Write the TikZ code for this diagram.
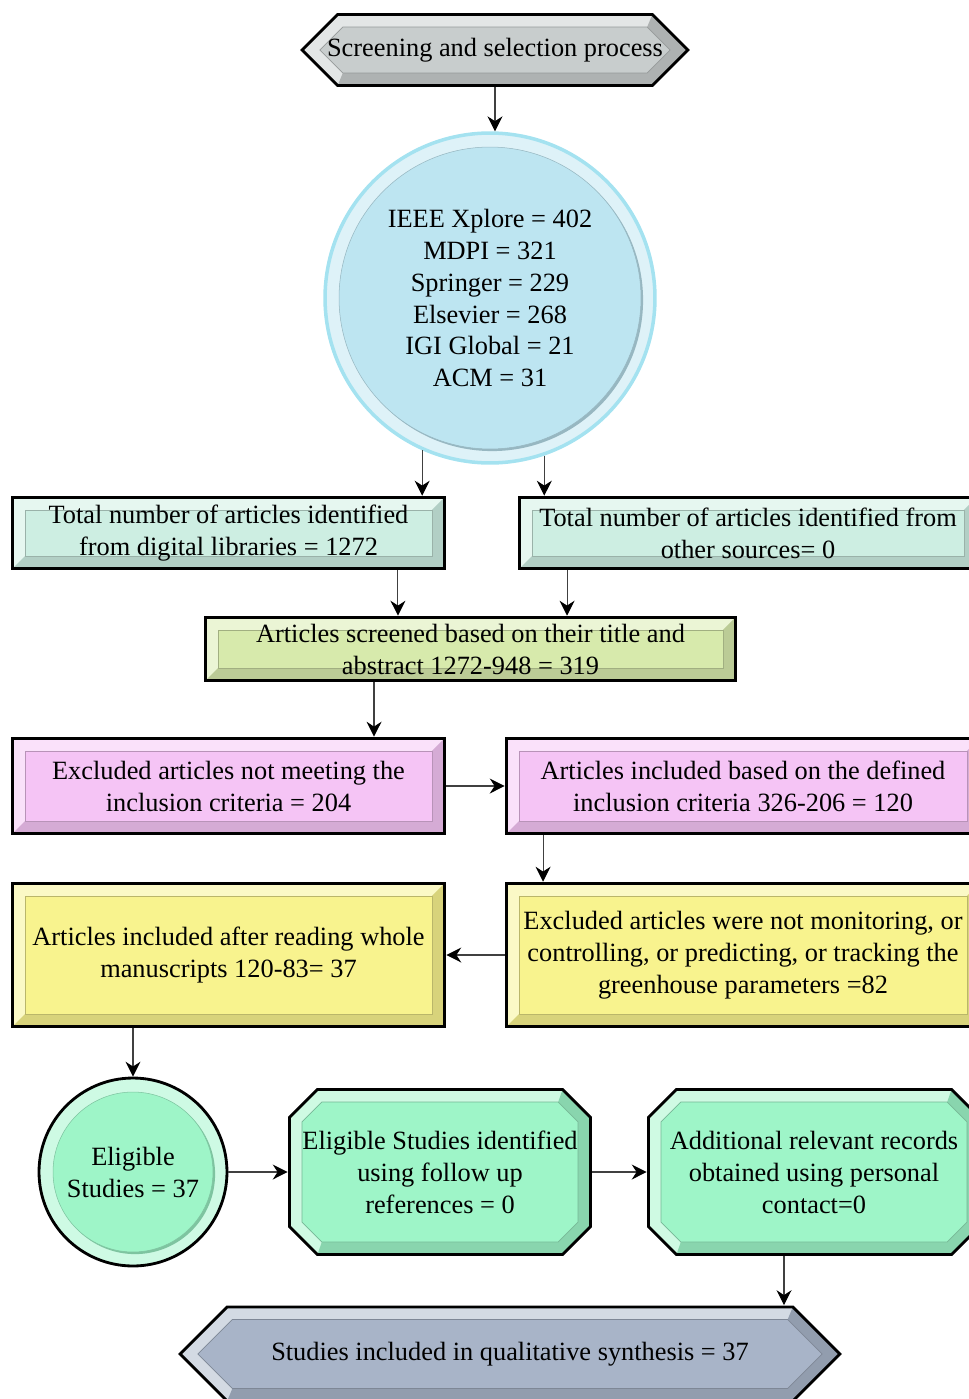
\documentclass[tikz,border=0pt]{standalone}
\usepackage{fontspec}
\setmainfont{Liberation Serif}
\usetikzlibrary{arrows.meta,calc}

\definecolor{hexgray}{HTML}{C8CDCD}
\definecolor{dbblue}{HTML}{BDE5F1}
\definecolor{dbedge}{HTML}{A4E2F0}
\definecolor{idmint}{HTML}{CDEEE2}
\definecolor{scrlime}{HTML}{D7EAAC}
\definecolor{crpink}{HTML}{F5C4F5}
\definecolor{fulltext}{HTML}{F8F38E}
\definecolor{eligmint}{HTML}{9EF5C8}
\definecolor{synslate}{HTML}{A8B4C8}

\newcommand{\bev}{0.28cm}
% octagon (or plain box when chamfer is 0) inside the node box
\newcommand{\octpath}[2]{%
  let \p1=(path picture bounding box.south west), \p2=(path picture bounding box.north east),
      \n1={\x1+#1}, \n2={\x2-#1}, \n3={\y1+#1}, \n4={\y2-#1}, \n5={max(0pt,#2)}
  in ({\n1+\n5},\n3) -- ({\n2-\n5},\n3) -- (\n2,{\n3+\n5}) -- (\n2,{\n4-\n5})
     -- ({\n2-\n5},\n4) -- ({\n1+\n5},\n4) -- (\n1,{\n4-\n5}) -- (\n1,{\n3+\n5}) -- cycle}
\newcommand{\octlow}[4]{%
  let \p1=(path picture bounding box.south west), \p2=(path picture bounding box.north east),
      \n1={\x1+#1}, \n2={\x2-#1}, \n3={\y1+#1}, \n4={\y2-#1}, \n5={max(0pt,#2)},
      \n6={\x1+#3}, \n7={\x2-#3}, \n8={\y1+#3}, \n9={\y2-#3}, \n{ic}={max(0pt,#4)}
  in ({\n1+\n5},\n3) -- ({\n2-\n5},\n3) -- (\n2,{\n3+\n5}) -- (\n2,{\n4-\n5}) -- ({\n2-\n5},\n4)
     -- ({\n7-\n{ic}},\n9) -- (\n7,{\n9-\n{ic}}) -- (\n7,{\n8+\n{ic}}) -- ({\n7-\n{ic}},\n8)
     -- ({\n6+\n{ic}},\n8) -- cycle}
% long hexagon with 45 degree points
\newcommand{\hexpath}[1]{%
  let \p1=(path picture bounding box.south west), \p2=(path picture bounding box.north east),
      \n1={(\y2-\y1)/2-#1}, \n2={(\y1+\y2)/2}, \n3={\x1+1.414*#1}, \n4={\x2-1.414*#1}
  in (\n3,\n2) -- ({\n3+\n1},{\n2+\n1}) -- ({\n4-\n1},{\n2+\n1}) -- (\n4,\n2)
     -- ({\n4-\n1},{\n2-\n1}) -- ({\n3+\n1},{\n2-\n1}) -- cycle}
\newcommand{\hexlow}[2]{%
  let \p1=(path picture bounding box.south west), \p2=(path picture bounding box.north east),
      \n1={(\y2-\y1)/2-#1}, \n2={(\y1+\y2)/2}, \n3={\x1+1.414*#1}, \n4={\x2-1.414*#1},
      \n5={(\y2-\y1)/2-#2}, \n6={\x1+1.414*#2}, \n7={\x2-1.414*#2}
  in ({\n3+\n1},{\n2-\n1}) -- ({\n4-\n1},{\n2-\n1}) -- (\n4,\n2) -- ({\n4-\n1},{\n2+\n1})
     -- ({\n7-\n5},{\n2+\n5}) -- (\n7,\n2) -- ({\n7-\n5},{\n2-\n5}) -- ({\n6+\n5},{\n2-\n5}) -- cycle}

\tikzset{
  every node/.append style={font=\fontsize{15}{18.2}\selectfont, align=center},
  arr/.style={-{Stealth[length=8.5pt,width=8.5pt,black]}, draw=black!75, line width=0.6pt},
  bevelbox/.style 2 args={rectangle, inner sep=0pt, path picture={
      \fill[#1!50!white] \octpath{0.8pt}{#2};
      \fill[#1!87!black] \octlow{0.8pt}{#2}{\bev}{#2-0.586*\bev};
      \filldraw[fill=#1, draw=#1!75!black, line width=0.4pt] \octpath{\bev}{#2-0.586*\bev};
      \draw[line width=1.6pt] \octpath{0.8pt}{#2};
    }},
  hexbox/.style={rectangle, inner sep=0pt, path picture={
      \fill[#1!50!white] \hexpath{0.8pt};
      \fill[#1!87!black] \hexlow{0.8pt}{\bev};
      \filldraw[fill=#1, draw=#1!75!black, line width=0.4pt] \hexpath{\bev};
      \draw[line width=1.6pt] \hexpath{0.8pt};
    }},
  bevelcirc/.style 2 args={circle, inner sep=0pt, draw=#2, fill=#1!50!white, path picture={
      \fill[#1!80!black] let \p1=(path picture bounding box.west), \p2=(path picture bounding box.east),
        \n1={(\x2-\x1)/2-\bev} in ([shift={(1.2pt,-1.2pt)}]path picture bounding box.center) circle[radius=\n1];
      \filldraw[fill=#1, draw=#1!80!black, line width=0.3pt] let \p1=(path picture bounding box.west),
        \p2=(path picture bounding box.east), \n1={(\x2-\x1)/2-\bev}
        in (path picture bounding box.center) circle[radius=\n1];
    }},
}

\begin{document}
\begin{tikzpicture}[x=0.02cm, y=-0.02cm]
\useasboundingbox (0,0) rectangle (968,1399);
% search stage
\node[hexbox=hexgray, minimum width=7.8cm, minimum height=1.48cm] (start) at (495,50) {Screening and selection process};
\node[bevelcirc={dbblue}{dbedge}, line width=2pt, minimum size=6.6cm] (dbs) at (490,298)
  {IEEE Xplore = 402\\ MDPI = 321\\ Springer = 229\\ Elsevier = 268\\ IGI Global = 21\\ ACM = 31};
\node[bevelbox={idmint}{0pt}, minimum width=8.7cm, minimum height=1.48cm] (idlib) at (228.5,533)
  {Total number of articles identified\\ from digital libraries = 1272};
\node[bevelbox={idmint}{0pt}, minimum width=9.2cm, minimum height=1.48cm] (idother) at (748,533)
  {Total number of articles identified from\\ other sources= 0};
% screening stage
\node[bevelbox={scrlime}{0pt}, minimum width=10.66cm, minimum height=1.32cm] (screened) at (470.5,649)
  {Articles screened based on their title and\\ abstract 1272-948 = 319};
\node[bevelbox={crpink}{0pt}, minimum width=8.7cm, minimum height=1.96cm] (notmeet) at (228.5,786)
  {Excluded articles not meeting the\\ inclusion criteria = 204};
\node[bevelbox={crpink}{0pt}, minimum width=9.52cm, minimum height=1.96cm] (meet) at (743,786)
  {Articles included based on the defined\\ inclusion criteria 326-206 = 120};
\node[bevelbox={fulltext}{0pt}, minimum width=9.52cm, minimum height=2.92cm] (offtopic) at (743,955)
  {Excluded articles were not monitoring, or\\ controlling, or predicting, or tracking the\\ greenhouse parameters =82};
\node[bevelbox={fulltext}{0pt}, minimum width=8.7cm, minimum height=2.92cm] (wholeread) at (228.5,955)
  {Articles included after reading whole\\ manuscripts 120-83= 37};
% eligibility and synthesis
\node[bevelcirc={eligmint}{black}, line width=1.6pt, minimum size=3.76cm] (elig) at (133,1172)
  {Eligible\\ Studies = 37};
\node[bevelbox={eligmint}{0.56cm}, minimum width=6.08cm, minimum height=3.36cm] (followup) at (440,1172)
  {Eligible Studies identified\\ using follow up\\ references = 0};
\node[bevelbox={eligmint}{0.56cm}, minimum width=6.68cm, minimum height=3.36cm] (contact) at (814,1172)
  {Additional relevant records\\ obtained using personal\\ contact=0};
\node[hexbox=synslate, minimum width=13.28cm, minimum height=1.94cm] (synth) at (510,1354)
  {Studies included in qualitative synthesis = 37};
% connectors
\draw[arr] (start.south) -- (start.south |- dbs.north);
\draw[arr] (dbs.-114) -- (dbs.-114 |- idlib.north);
\draw[arr] (dbs.-71) -- (dbs.-71 |- idother.north);
\draw[arr] ([xshift=3.39cm]idlib.south) -- ([xshift=3.39cm]idlib.south |- screened.north);
\draw[arr] ([xshift=-3.62cm]idother.south) -- ([xshift=-3.62cm]idother.south |- screened.north);
\draw[arr] ([xshift=-1.93cm]screened.south) -- ([xshift=-1.93cm]screened.south |- notmeet.north);
\draw[arr] (notmeet.east) -- (meet.west);
\draw[arr] ([xshift=-4cm]meet.south) -- ([xshift=-4cm]meet.south |- offtopic.north);
\draw[arr] (offtopic.west) -- (wholeread.east);
\draw[arr] (wholeread.south -| elig.north) -- (elig.north);
\draw[arr] (elig.east) -- (followup.west);
\draw[arr] (followup.east) -- (contact.west);
\draw[arr] ([xshift=-0.6cm]contact.south) -- ([xshift=-0.6cm]contact.south |- synth.north);
\end{tikzpicture}
\end{document}
